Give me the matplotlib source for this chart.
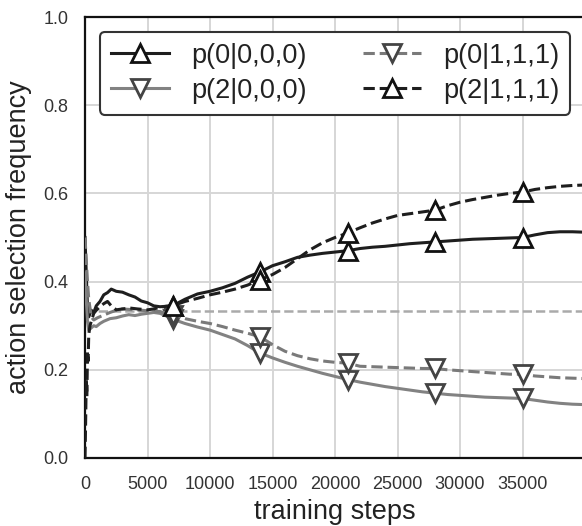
import matplotlib
matplotlib.use("Agg")
import matplotlib.pyplot as plt

plt.rcParams["font.family"] = ["Liberation Sans", "DejaVu Sans"]

# Running action-selection frequencies over training
steps_p0_000 = [0, 100, 200, 300, 500, 700, 900, 1200, 1500, 1800, 2100, 2500, 3000, 3500,
                4000, 4500, 5000, 5500, 6000, 6500, 7000, 8000, 9000, 10000, 11000, 12000,
                13000, 14000, 15000, 16000, 17000, 18000, 19000, 20000, 21000, 22000, 23000,
                24000, 25000, 26000, 27000, 28000, 29000, 30000, 31000, 32000, 33000, 34000,
                35000, 36000, 37000, 38000, 39000, 40000]
p0_000 = [0.50, 0.42, 0.34, 0.32, 0.335, 0.33, 0.345, 0.355, 0.37, 0.375, 0.383, 0.378, 0.376, 0.37,
          0.365, 0.356, 0.352, 0.345, 0.343, 0.344, 0.345, 0.36, 0.372, 0.378, 0.386, 0.396,
          0.41, 0.422, 0.436, 0.445, 0.455, 0.46, 0.464, 0.467, 0.47, 0.475, 0.478,
          0.48, 0.483, 0.486, 0.488, 0.49, 0.492, 0.494, 0.496, 0.497, 0.498, 0.499,
          0.50, 0.506, 0.511, 0.513, 0.513, 0.512]

steps_p2_000 = [0, 100, 200, 300, 500, 700, 900, 1200, 1500, 2000, 2500, 3000, 3500, 4000,
                4500, 5000, 5500, 6000, 6500, 7000, 8000, 9000, 10000, 11000, 12000, 13000,
                14000, 15000, 16000, 17000, 18000, 19000, 20000, 21000, 22000, 23000, 24000,
                25000, 26000, 27000, 28000, 29000, 30000, 31000, 32000, 33000, 34000, 35000,
                36000, 37000, 38000, 39000, 40000]
p2_000 = [0.42, 0.36, 0.31, 0.29, 0.295, 0.30, 0.298, 0.305, 0.31, 0.316, 0.318, 0.322, 0.325, 0.323,
          0.326, 0.328, 0.33, 0.328, 0.322, 0.315, 0.305, 0.297, 0.29, 0.28, 0.27, 0.255,
          0.238, 0.227, 0.217, 0.208, 0.2, 0.192, 0.185, 0.178, 0.172, 0.167, 0.162,
          0.158, 0.154, 0.15, 0.147, 0.144, 0.142, 0.14, 0.138, 0.137, 0.136, 0.135,
          0.131, 0.127, 0.124, 0.122, 0.121]

steps_p0_111 = [0, 100, 200, 300, 500, 700, 1000, 1500, 2000, 2500, 3000, 4000, 5000, 6000,
                7000, 8000, 9000, 10000, 11000, 12000, 13000, 14000, 15000, 16000, 17000,
                18000, 19000, 20000, 21000, 22000, 23000, 24000, 25000, 26000, 27000, 28000,
                29000, 30000, 31000, 32000, 33000, 34000, 35000, 36000, 37000, 38000, 39000,
                40000]
p0_111 = [0.50, 0.45, 0.40, 0.36, 0.32, 0.313, 0.318, 0.324, 0.33, 0.335, 0.338, 0.336, 0.334, 0.332,
          0.325, 0.316, 0.31, 0.305, 0.298, 0.29, 0.283, 0.275, 0.257, 0.242, 0.232,
          0.225, 0.22, 0.217, 0.215, 0.208, 0.207, 0.206, 0.205, 0.204, 0.203, 0.203,
          0.2, 0.198, 0.196, 0.194, 0.192, 0.19, 0.19, 0.186, 0.184, 0.182, 0.181,
          0.18]

steps_p2_111 = [0, 50, 100, 150, 200, 250, 300, 400, 500, 700, 900, 1200, 1500, 1800, 2100,
                2500, 3000, 3600, 4200, 5000, 5500, 6000, 6500, 7000, 8000, 9000, 10000, 11000,
                12000, 13000, 14000, 15000, 16000, 17000, 18000, 19000, 20000, 21000, 22000,
                23000, 24000, 25000, 26000, 27000, 28000, 29000, 30000, 31000, 32000, 33000,
                34000, 35000, 36000, 37000, 38000, 39000, 40000]
p2_111 = [0.0, 0.08, 0.18, 0.14, 0.24, 0.22, 0.28, 0.30, 0.31, 0.328, 0.335, 0.343, 0.35, 0.355, 0.345,
          0.336, 0.338, 0.34, 0.338, 0.336, 0.338, 0.342, 0.344, 0.345, 0.355, 0.362, 0.37, 0.376,
          0.383, 0.392, 0.404, 0.416, 0.432, 0.452, 0.472, 0.488, 0.50, 0.51, 0.522,
          0.533, 0.542, 0.55, 0.554, 0.558, 0.562, 0.572, 0.58, 0.586, 0.591, 0.596,
          0.60, 0.603, 0.609, 0.613, 0.616, 0.618, 0.619]

marker_steps = [7000, 14000, 21000, 28000, 35000]
chance_level = 1 / 3

labels = ["p(0|0,0,0)", "p(2|0,0,0)", "p(0|1,1,1)", "p(2|1,1,1)"]


def mark_idx(steps):
    return [i for i, s in enumerate(steps) if s in marker_steps]


fig = plt.figure(figsize=(5.82, 5.26), dpi=100)
ax = fig.add_axes([85 / 582, 68 / 526, 500 / 582, 441 / 526])

ax.axhline(chance_level, color="#aaaaaa", ls="--", lw=1.8, zorder=1)

common = dict(ms=13, mew=2, mfc="white", zorder=3)
l1, = ax.plot(steps_p0_000, p0_000, color="#1e1e1e", ls="-", lw=2.2, marker="^",
              mec="#111111", markevery=mark_idx(steps_p0_000), label=labels[0], **common)
l2, = ax.plot(steps_p2_000, p2_000, color="#828282", ls="-", lw=2.2, marker="v",
              mec="#444444", markevery=mark_idx(steps_p2_000), label=labels[1], **common)
l3, = ax.plot(steps_p0_111, p0_111, color="#7a7a7a", ls="--", lw=2.2, marker="v",
              mec="#444444", markevery=mark_idx(steps_p0_111), label=labels[2], **common)
l4, = ax.plot(steps_p2_111, p2_111, color="#1e1e1e", ls="--", lw=2.2, marker="^",
              mec="#111111", markevery=mark_idx(steps_p2_111), label=labels[3], **common)

ax.set_xlim(0, 40000)
ax.set_ylim(0, 1.0)
ax.set_xticks(range(0, 40000, 5000))
ax.set_yticks([0.0, 0.2, 0.4, 0.6, 0.8, 1.0])
ax.set_yticklabels(["0.0", "0.2", "0.4", "0.6", "0.8", "1.0"])
ax.grid(True, color="#d6d6d6", lw=1.4)
ax.set_axisbelow(True)
for side in ["left", "bottom", "top", "right"]:
    ax.spines[side].set_color("#111111")
    ax.spines[side].set_linewidth(1.6)
ax.tick_params(length=0, labelsize=13, colors="#333333", pad=12)
ax.tick_params(axis="x", pad=13)

ax.set_xlabel("training steps", fontsize=19.5, color="#222222", labelpad=4)
ax.set_ylabel("action selection frequency", fontsize=19.5, color="#222222", labelpad=8)

leg = ax.legend(handles=[l1, l2, l3, l4], ncol=2, loc="upper left",
                bbox_to_anchor=(0.03, 0.966), borderaxespad=0, fontsize=19.5,
                handlelength=2.15, columnspacing=2.1, frameon=True, fancybox=True,
                framealpha=1, borderpad=0.4, labelspacing=0.33, handletextpad=0.8)
leg.get_frame().set_edgecolor("#333333")
leg.get_frame().set_linewidth(1.5)
for t in leg.get_texts():
    t.set_color("#222222")

fig.savefig("out.png", dpi=100)
